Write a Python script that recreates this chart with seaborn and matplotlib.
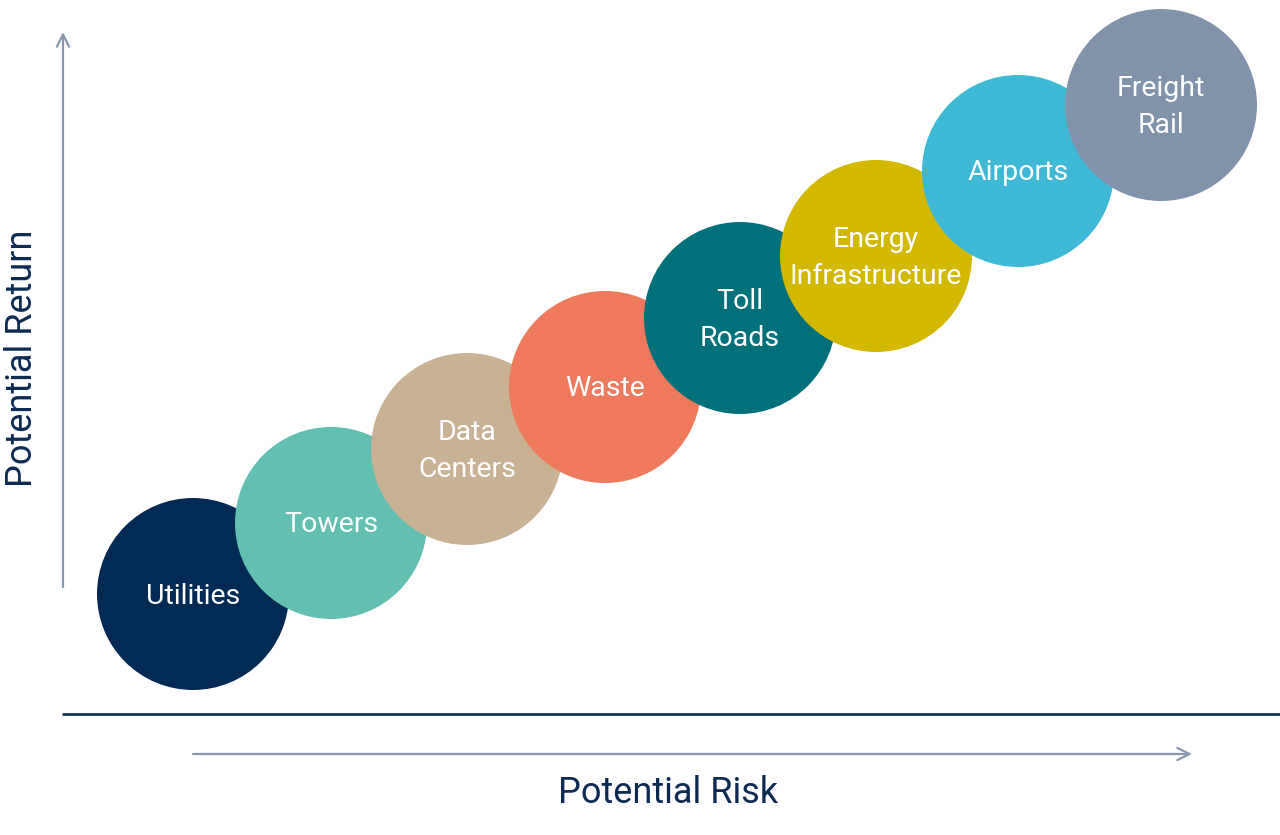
import pandas as pd
import seaborn as sns
import matplotlib.pyplot as plt

sectors = ["Utilities", "Towers", "Data\nCenters", "Waste", "Toll\nRoads",
           "Energy\nInfrastructure", "Airports", "Freight\nRail"]
risk = [193, 331, 467, 605, 740, 876, 1018, 1161]
ret = [241, 312, 386, 448, 517, 579, 664, 730]
colors = ["#032a55", "#62bfb2", "#c9b194", "#ee795c", "#00707a",
          "#d3b800", "#3eb9d5", "#8093aa"]

df = pd.DataFrame({"sector": sectors, "risk": risk, "ret": ret})

sns.set_theme(style="white")
plt.rcParams["font.family"] = ["Roboto", "DejaVu Sans"]

fig = plt.figure(figsize=(12.8, 8.35), dpi=100)
ax = fig.add_axes([0, 0, 1, 1])

# diameter ~192 px -> points at 100 dpi
diam_pt = 192 * 72 / 100
sns.scatterplot(data=df, x="risk", y="ret", hue="sector", palette=colors,
                s=diam_pt ** 2, linewidth=0, alpha=1, legend=False, ax=ax)

for _, row in df.iterrows():
    ax.text(row["risk"], row["ret"] - 2, row["sector"], color="white",
            fontsize=20.5, ha="center", va="center", linespacing=1.45)

navy = "#0d2a52"
arrow_c = "#8798ae"
ax.plot([62, 1280], [121, 121], color=navy, lw=1.9, solid_capstyle="butt")
ax.annotate("", xy=(1192, 81), xytext=(193, 81),
            arrowprops=dict(arrowstyle="->", color=arrow_c, lw=1.6,
                            mutation_scale=22, shrinkA=0, shrinkB=0))
ax.annotate("", xy=(63, 803), xytext=(63, 248),
            arrowprops=dict(arrowstyle="->", color=arrow_c, lw=1.6,
                            mutation_scale=22, shrinkA=0, shrinkB=0))

ax.text(668, 42, "Potential Risk", color=navy, fontsize=26,
        ha="center", va="center")
ax.text(22, 477, "Potential Return", color=navy, fontsize=26,
        ha="center", va="center", rotation=90)

ax.set_xlim(0, 1280)
ax.set_ylim(0, 835)
ax.axis("off")

fig.savefig("out.png", dpi=100)
